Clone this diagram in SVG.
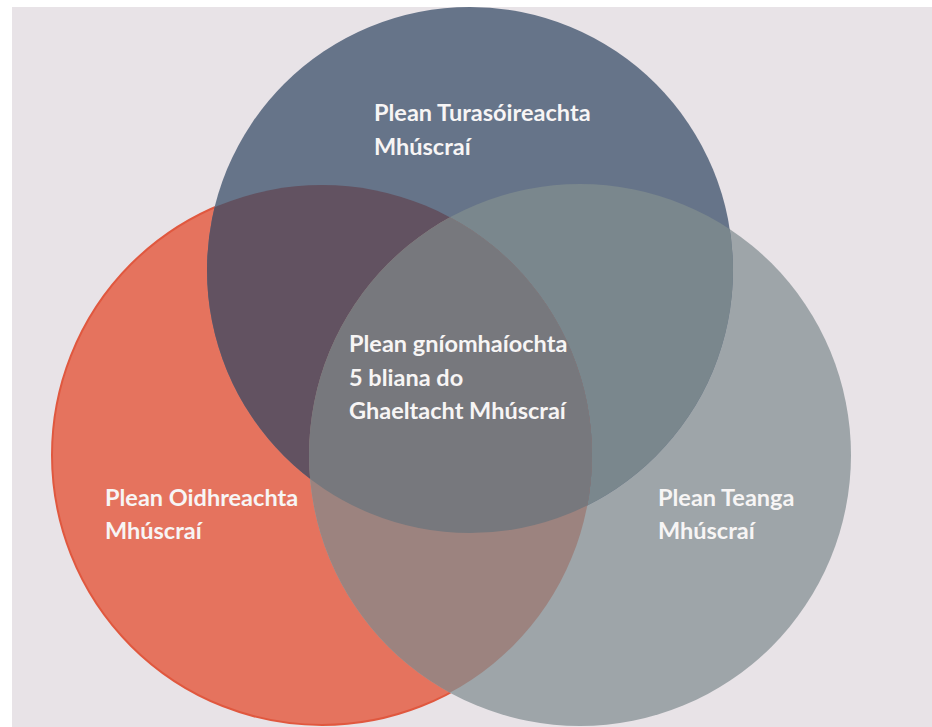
<svg xmlns="http://www.w3.org/2000/svg" width="932" height="727" viewBox="0 0 932 727">
  <style>
    .lbl { font-family: Lato, "Liberation Sans", sans-serif; font-weight: 700; font-size: 23.5px; fill: #f7f5f5; }
  </style>
  <defs>
    <clipPath id="page"><rect x="12" y="7" width="920" height="720"/></clipPath>
    <clipPath id="clipA"><circle cx="470" cy="270" r="263"/></clipPath>
    <clipPath id="clipC"><circle cx="580" cy="455" r="271"/></clipPath>
  </defs>
  <rect x="0" y="0" width="932" height="727" fill="#ffffff"/>
  <rect x="12" y="7" width="920" height="720" fill="#e8e3e7"/>
  <g clip-path="url(#page)">
    <g id="node-oidhreacht">
      <circle cx="322" cy="455" r="270" fill="#e5735e" stroke="#e0583f" stroke-width="2"/>
    </g>
    <g id="node-teanga">
      <circle cx="580" cy="455" r="271" fill="#9ea5a9"/>
    </g>
    <g id="node-turasoireacht">
      <circle cx="470" cy="270" r="263" fill="#667489"/>
    </g>
    <g id="overlaps">
      <circle cx="580" cy="455" r="271" fill="#7a878d" clip-path="url(#clipA)"/>
      <circle cx="322" cy="455" r="270" fill="#625261" clip-path="url(#clipA)"/>
      <circle cx="322" cy="455" r="270" fill="#9c837f" clip-path="url(#clipC)"/>
      <g clip-path="url(#clipA)">
        <circle cx="322" cy="455" r="270" fill="#77787d" clip-path="url(#clipC)"/>
      </g>
    </g>
  </g>
  <g id="connectors"/>
  <g id="labels">
    <text class="lbl" x="374" y="121">Plean Turasóireachta</text>
    <text class="lbl" x="374" y="155">Mhúscraí</text>
    <text class="lbl" x="349" y="352">Plean gníomhaíochta</text>
    <text class="lbl" x="349" y="386">5 bliana do</text>
    <text class="lbl" x="349" y="419">Ghaeltacht Mhúscraí</text>
    <text class="lbl" x="105" y="506">Plean Oidhreachta</text>
    <text class="lbl" x="105" y="539">Mhúscraí</text>
    <text class="lbl" x="658" y="506">Plean Teanga</text>
    <text class="lbl" x="658" y="539">Mhúscraí</text>
  </g>
</svg>
